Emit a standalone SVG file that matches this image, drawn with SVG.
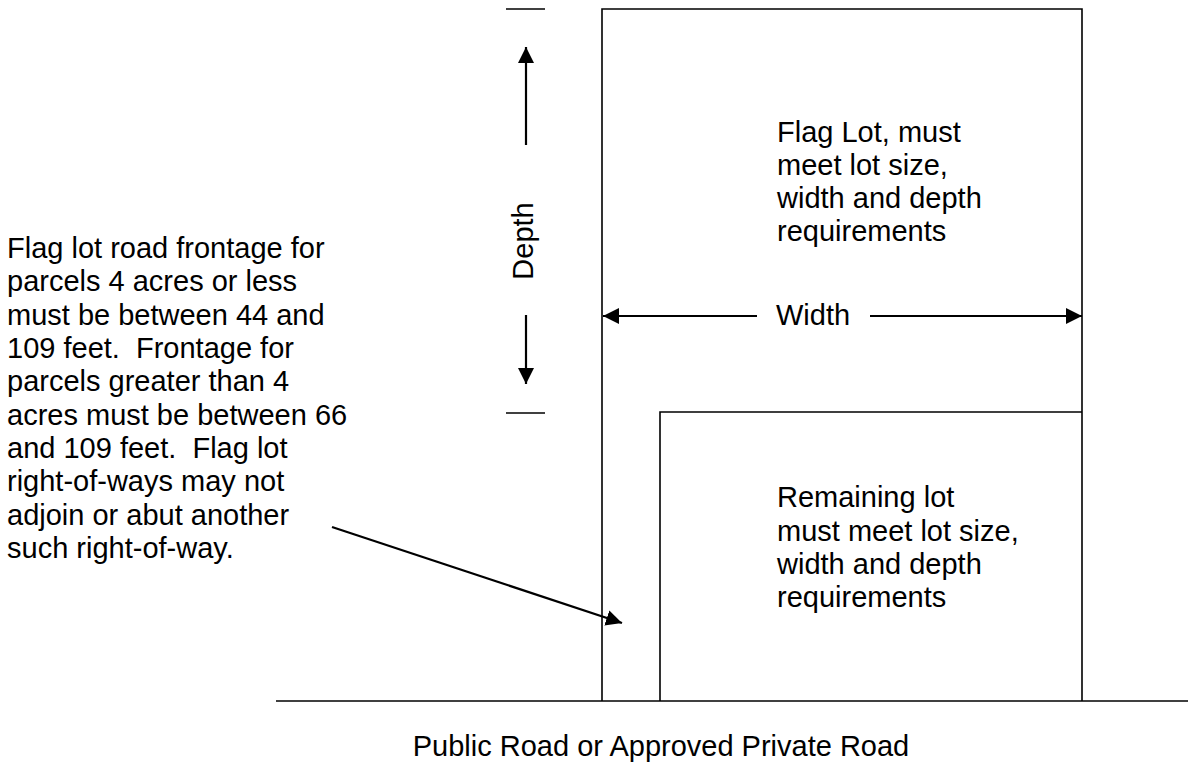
<svg xmlns="http://www.w3.org/2000/svg" width="1188" height="763" viewBox="0 0 1188 763">
<style>
text{font-family:"Liberation Sans",Arial,sans-serif;font-size:29px;fill:#000;white-space:pre}
.ln{stroke:#000;stroke-width:1.6;fill:none}
.ar{stroke:#000;stroke-width:2.2;fill:none}
</style>
<defs>
<marker id="ah" viewBox="0 0 16 16" refX="16" refY="8" markerWidth="16" markerHeight="16" markerUnits="userSpaceOnUse" orient="auto"><path d="M0,0 L16,8 L0,16 z" fill="#000"/></marker>
</defs>
<rect width="1188" height="763" fill="#fff"/>
<g id="road">
<line class="ln" x1="276" y1="701" x2="1188" y2="701"/>
<text x="661" y="756" text-anchor="middle">Public Road or Approved Private Road</text>
</g>
<g id="flag-lot">
<polyline class="ln" points="602,701 602,9 1082,9 1082,701"/>
<text x="777" y="142">Flag Lot, must</text>
<text x="777" y="175">meet lot size,</text>
<text x="777" y="208">width and depth</text>
<text x="777" y="241">requirements</text>
</g>
<g id="remaining-lot">
<polyline class="ln" points="660,701 660,412 1082,412"/>
<text x="777" y="507">Remaining lot</text>
<text x="777" y="541">must meet lot size,</text>
<text x="777" y="574">width and depth</text>
<text x="777" y="607">requirements</text>
</g>
<g id="note">
<text x="7" y="258">Flag lot road frontage for</text>
<text x="7" y="291">parcels 4 acres or less</text>
<text x="7" y="325">must be between 44 and</text>
<text x="7" y="358">109 feet.  Frontage for</text>
<text x="7" y="391">parcels greater than 4</text>
<text x="7" y="425">acres must be between 66</text>
<text x="7" y="458">and 109 feet.  Flag lot</text>
<text x="7" y="491">right-of-ways may not</text>
<text x="7" y="525">adjoin or abut another</text>
<text x="7" y="558">such right-of-way.</text>
</g>
<g id="depth-dim">
<line class="ln" x1="506" y1="9" x2="545" y2="9"/>
<line class="ln" x1="506" y1="413" x2="545" y2="413"/>
<text transform="translate(533,241) rotate(-90)" text-anchor="middle">Depth</text>
</g>
<g id="width-dim">
<text x="776" y="325">Width</text>
</g>
<g id="connectors">
<line class="ar" x1="526" y1="145" x2="526" y2="47" marker-end="url(#ah)"/>
<line class="ar" x1="526" y1="315" x2="526" y2="384" marker-end="url(#ah)"/>
<line class="ar" x1="757" y1="316" x2="603" y2="316" marker-end="url(#ah)"/>
<line class="ar" x1="870" y1="316" x2="1082" y2="316" marker-end="url(#ah)"/>
<line class="ar" x1="332" y1="527" x2="622" y2="623" marker-end="url(#ah)"/>
</g>
</svg>
